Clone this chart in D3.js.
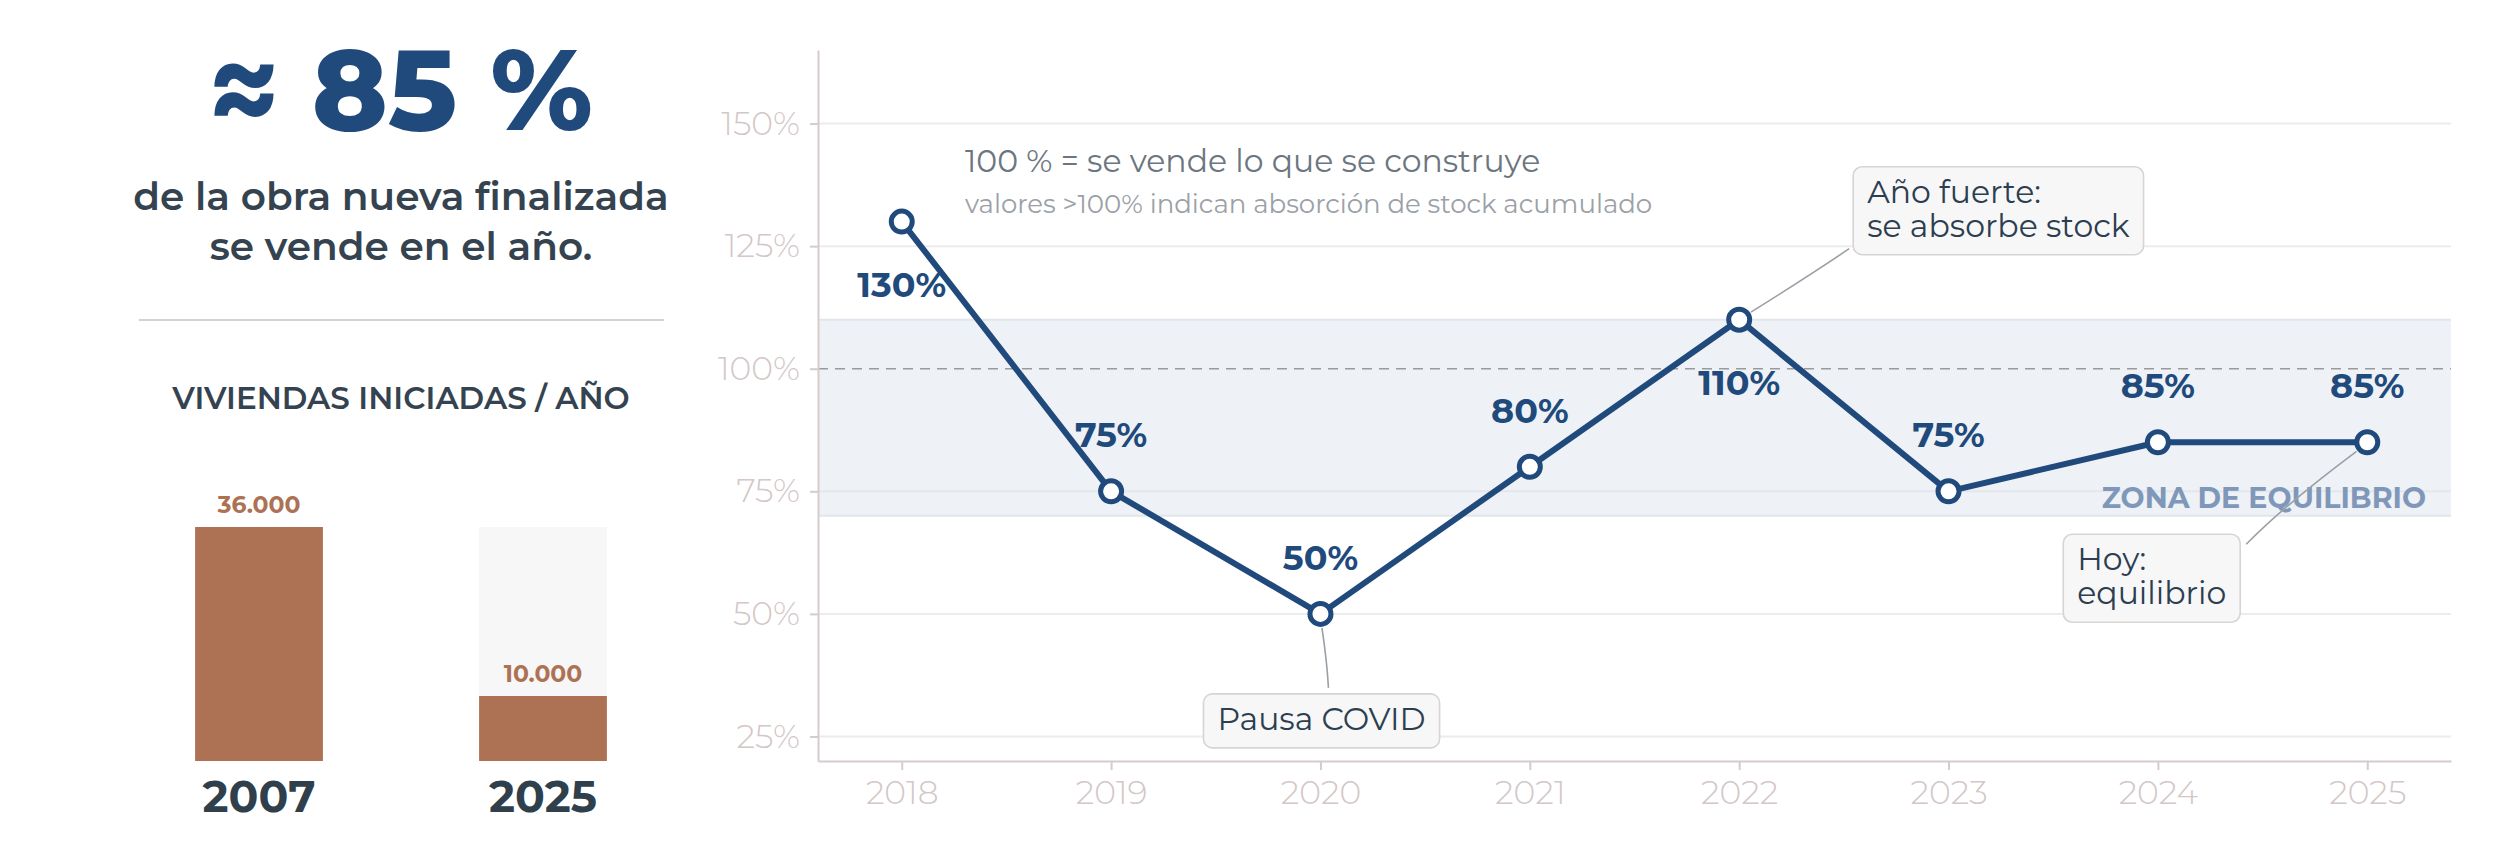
<!DOCTYPE html>
<html>
<head>
<meta charset="utf-8">
<script src="https://cdn.jsdelivr.net/npm/d3@7"></script>
<style>
  body { margin: 0; background: #fff; }
  text { font-family: Montserrat, Inter, "Noto Sans", sans-serif; }
</style>
</head>
<body>
<div id="chart"></div>
<script>
// ---- data ----
var years = [2018, 2019, 2020, 2021, 2022, 2023, 2024, 2025];
var ratio = [130, 75, 50, 80, 110, 75, 85, 85];
var yTicks = [25, 50, 75, 100, 125, 150];
var zoneRange = [70, 110];
var zoneLabel = "ZONA DE EQUILIBRIO";

var barYears = ["2007", "2025"];
var barValues = [36000, 10000];
var barLabels = ["36.000", "10.000"];

var headline = "≈ 85 %";
var subLines = ["de la obra nueva finalizada", "se vende en el año."];
var barTitle = "VIVIENDAS INICIADAS / AÑO";
var noteLines = ["100 % = se vende lo que se construye",
                 "valores >100% indican absorción de stock acumulado"];
var calloutYears = [2022, 2020, 2025];
var calloutTexts = [["Año fuerte:", "se absorbe stock"], ["Pausa COVID"], ["Hoy:", "equilibrio"]];

// ---- setup ----
var W = 2500, H = 846;
var blue = "#214a7c", dark = "#2f3f4c", copper = "#ad7254";

var svg = d3.select("#chart").append("svg")
    .attr("width", W)
    .attr("height", H);

/*
 * Left panel: headline + bar comparison
 */
var cx = 401;

svg.append("text")
    .attr("x", cx).attr("y", 130)
    .attr("text-anchor", "middle")
    .attr("font-size", 114).attr("font-weight", 800)
    .attr("fill", blue)
    .text(headline);

svg.selectAll(".sub")
    .data(subLines)
    .enter().append("text")
    .attr("class", "sub")
    .attr("x", cx)
    .attr("y", function(d, i) { return 210 + i * 50; })
    .attr("text-anchor", "middle")
    .attr("font-size", 39).attr("font-weight", 600)
    .attr("fill", "#34434f")
    .text(function(d) { return d; });

svg.append("line")
    .attr("x1", 139).attr("x2", 664)
    .attr("y1", 320).attr("y2", 320)
    .attr("stroke", "#d6d0d0").attr("stroke-width", 2);

svg.append("text")
    .attr("x", cx).attr("y", 409)
    .attr("text-anchor", "middle")
    .attr("font-size", 31).attr("font-weight", 600)
    .attr("fill", "#34434f")
    .text(barTitle);

var bx = d3.scaleBand()
    .domain(barYears)
    .range([117, 685])
    .paddingInner(0.55)
    .paddingOuter(0.275);

var by = d3.scaleLinear()
    .domain([0, d3.max(barValues)])
    .range([761, 527]);

// background track
svg.selectAll(".track")
    .data(barYears)
    .enter().append("rect")
    .attr("class", "track")
    .attr("x", function(d) { return bx(d); })
    .attr("width", bx.bandwidth())
    .attr("y", by(d3.max(barValues)))
    .attr("height", by(0) - by(d3.max(barValues)))
    .attr("fill", "#f7f7f7");

svg.selectAll(".bar")
    .data(barValues)
    .enter().append("rect")
    .attr("class", "bar")
    .attr("x", function(d, i) { return bx(barYears[i]); })
    .attr("width", bx.bandwidth())
    .attr("y", function(d) { return by(d); })
    .attr("height", function(d) { return by(0) - by(d); })
    .attr("fill", copper);

svg.selectAll(".barval")
    .data(barValues)
    .enter().append("text")
    .attr("class", "barval")
    .attr("x", function(d, i) { return bx(barYears[i]) + bx.bandwidth() / 2; })
    .attr("y", function(d) { return by(d) - 14; })
    .attr("text-anchor", "middle")
    .attr("font-size", 23.5).attr("font-weight", 700)
    .attr("fill", copper)
    .text(function(d, i) { return barLabels[i]; });

svg.selectAll(".baryear")
    .data(barYears)
    .enter().append("text")
    .attr("class", "baryear")
    .attr("x", function(d) { return bx(d) + bx.bandwidth() / 2; })
    .attr("y", 812)
    .attr("text-anchor", "middle")
    .attr("font-size", 44).attr("font-weight", 700)
    .attr("fill", dark)
    .text(function(d) { return d; });

/*
 * Right panel: line chart
 */
var x = d3.scaleLinear()
    .domain([d3.min(years) - 0.4, d3.max(years) + 0.4])
    .range([818, 2451]);

var y = d3.scaleLinear()
    .domain([20, 165])
    .range([761, 50]);

// gridlines
svg.selectAll(".grid")
    .data(yTicks)
    .enter().append("line")
    .attr("class", "grid")
    .attr("x1", x.range()[0]).attr("x2", x.range()[1])
    .attr("y1", function(d) { return y(d); })
    .attr("y2", function(d) { return y(d); })
    .attr("stroke", "#ececec").attr("stroke-width", 2);

// equilibrium band
svg.append("rect")
    .attr("x", x.range()[0])
    .attr("width", x.range()[1] - x.range()[0])
    .attr("y", y(zoneRange[1]))
    .attr("height", y(zoneRange[0]) - y(zoneRange[1]))
    .attr("fill", "#eef1f5");

svg.selectAll(".bandedge")
    .data(zoneRange)
    .enter().append("line")
    .attr("class", "bandedge")
    .attr("x1", x.range()[0]).attr("x2", x.range()[1])
    .attr("y1", function(d) { return y(d); })
    .attr("y2", function(d) { return y(d); })
    .attr("stroke", "#e1e6ed").attr("stroke-width", 2);

// the 75% gridline sits inside the band
svg.append("line")
    .attr("x1", x.range()[0]).attr("x2", x.range()[1])
    .attr("y1", y(75)).attr("y2", y(75))
    .attr("stroke", "#e3e6ea").attr("stroke-width", 2);

svg.append("text")
    .attr("x", 2426).attr("y", y(zoneRange[0]) - 8)
    .attr("text-anchor", "end")
    .attr("font-size", 28.5).attr("font-weight", 700)
    .attr("fill", "#7f98b9")
    .text(zoneLabel);

// 100% reference
svg.append("line")
    .attr("x1", x.range()[0]).attr("x2", x.range()[1])
    .attr("y1", y(100)).attr("y2", y(100))
    .attr("stroke", "#9a9a9a").attr("stroke-width", 1.6)
    .attr("stroke-dasharray", "10,7");

// axes
var yAxis = d3.axisLeft(y)
    .tickValues(yTicks)
    .tickFormat(function(d) { return d + "%"; })
    .tickSize(8).tickPadding(10).tickSizeOuter(0);

var xAxis = d3.axisBottom(x)
    .tickValues(years)
    .tickFormat(d3.format("d"))
    .tickSize(9).tickPadding(11).tickSizeOuter(0);

var gy = svg.append("g")
    .attr("transform", "translate(" + x.range()[0] + ",0)")
    .call(yAxis);

var gx = svg.append("g")
    .attr("transform", "translate(0," + y.range()[0] + ")")
    .call(xAxis);

[gx, gy].forEach(function(g) {
    g.select(".domain").attr("stroke", "#d6cccc").attr("stroke-width", 2);
    g.selectAll(".tick line").attr("stroke", "#d6cccc").attr("stroke-width", 2);
    g.selectAll(".tick text")
        .attr("fill", "#d3c7c7")
        .attr("font-size", 33)
        .attr("font-weight", 300)
        .style("font-family", "Montserrat, Inter, sans-serif");
});

// notes
svg.selectAll(".note")
    .data(noteLines)
    .enter().append("text")
    .attr("class", "note")
    .attr("x", 965)
    .attr("y", function(d, i) { return i === 0 ? 172 : 213; })
    .attr("font-size", function(d, i) { return i === 0 ? 31.5 : 26; })
    .attr("font-weight", 400)
    .attr("fill", function(d, i) { return i === 0 ? "#6c7680" : "#9ba1a7"; })
    .text(function(d) { return d; });

// callouts (drawn under the line so the markers sit on top of connectors)
var pts = years.map(function(yr, i) { return { year: yr, v: ratio[i] }; });
function ptOf(yr) {
    var i = years.indexOf(yr);
    return [x(yr), y(ratio[i])];
}

var calloutLayout = [
    { dx: 114, dy: -153, bend: [30, -45] },
    { dx: -117, dy: 80, bend: [6, 35] },
    { dx: -304, dy: 92, bend: [-55, 70] }
];

calloutTexts.forEach(function(lines, k) {
    var p = ptOf(calloutYears[k]);
    var L = calloutLayout[k];
    var bx0 = p[0] + L.dx, by0 = p[1] + L.dy;
    var g = svg.append("g");

    var rect = g.append("rect")
        .attr("x", bx0).attr("y", by0)
        .attr("rx", 9).attr("ry", 9)
        .attr("fill", "#f7f7f7")
        .attr("stroke", "#d9d3d3").attr("stroke-width", 1.6);

    var t = g.selectAll("text")
        .data(lines)
        .enter().append("text")
        .attr("x", bx0 + 14)
        .attr("y", function(d, i) { return by0 + 36 + i * 34; })
        .attr("font-size", 31.5)
        .attr("font-weight", 400)
        .attr("fill", "#2c3e50")
        .text(function(d) { return d; });

    var wmax = 0;
    t.each(function() { wmax = Math.max(wmax, this.getComputedTextLength()); });
    var bw = wmax + 28, bh = 36 + (lines.length - 1) * 34 + 18;
    rect.attr("width", bw).attr("height", bh);

    // connector end point on the box
    var end;
    if (k === 0) end = [bx0 - 4, by0 + bh - 6];
    else if (k === 1) end = [p[0] + 8, by0 - 6];
    else end = [bx0 + bw + 6, by0 + 10];

    var sx = p[0], sy = p[1];
    var dx = end[0] - sx, dy = end[1] - sy, len = Math.sqrt(dx * dx + dy * dy);
    sx += dx / len * 14; sy += dy / len * 14;
    var c = [(sx + end[0]) / 2 + L.bend[0] * 0.3, (sy + end[1]) / 2 + L.bend[1] * 0.1];

    svg.insert("path", "g")
        .attr("d", "M" + sx + "," + sy + " Q" + c[0] + "," + c[1] + " " + end[0] + "," + end[1])
        .attr("fill", "none")
        .attr("stroke", "#9aa0a6")
        .attr("stroke-width", 1.6);
});

// line + markers
var line = d3.line()
    .x(function(d) { return x(d.year); })
    .y(function(d) { return y(d.v); });

svg.append("path")
    .datum(pts)
    .attr("d", line)
    .attr("fill", "none")
    .attr("stroke", blue)
    .attr("stroke-width", 6)
    .attr("stroke-linejoin", "round");

svg.selectAll(".dot")
    .data(pts)
    .enter().append("circle")
    .attr("class", "dot")
    .attr("cx", function(d) { return x(d.year); })
    .attr("cy", function(d) { return y(d.v); })
    .attr("r", 10.5)
    .attr("fill", "#fff")
    .attr("stroke", blue)
    .attr("stroke-width", 5);

// value labels: below the point for local peaks, above otherwise
function isPeak(i) {
    var prev = i > 0 ? ratio[i - 1] : -Infinity;
    var next = i < ratio.length - 1 ? ratio[i + 1] : -Infinity;
    return ratio[i] > prev && ratio[i] > next;
}

svg.selectAll(".vlabel")
    .data(pts)
    .enter().append("text")
    .attr("class", "vlabel")
    .attr("x", function(d) { return x(d.year); })
    .attr("y", function(d, i) { return y(d.v) + (isPeak(i) ? 75 : -44); })
    .attr("text-anchor", "middle")
    .attr("font-size", 35)
    .attr("font-weight", 700)
    .attr("fill", blue)
    .text(function(d) { return d.v + "%"; });
</script>
</body>
</html>
